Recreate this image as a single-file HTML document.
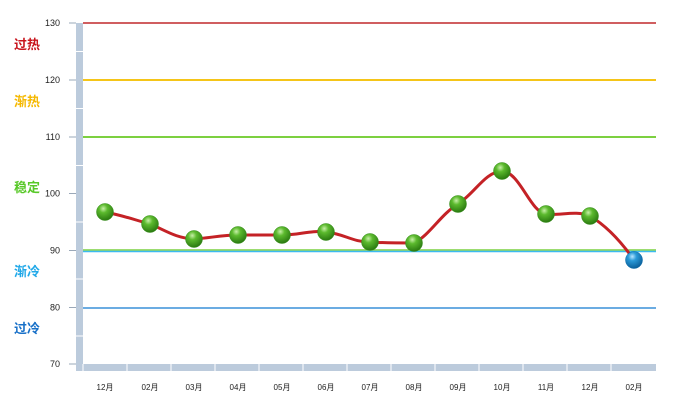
<!DOCTYPE html>
<html><head><meta charset="utf-8"><style>
body{margin:0;background:#fff;}
svg{display:block;font-family:"Liberation Sans","Noto Sans CJK SC",sans-serif;}
</style></head><body>
<svg width="682" height="406" viewBox="0 0 682 406">
<defs>
<radialGradient id="g" cx="40%" cy="30%" r="70%"><stop offset="0" stop-color="#c8f0a8"/><stop offset="0.35" stop-color="#5cba2e"/><stop offset="1" stop-color="#2a7a10"/></radialGradient>
<radialGradient id="b" cx="40%" cy="30%" r="70%"><stop offset="0" stop-color="#b8e6ff"/><stop offset="0.35" stop-color="#2a9ad8"/><stop offset="1" stop-color="#0a5f9a"/></radialGradient>
</defs>
<rect x="76" y="23" width="7" height="348" fill="#bccbdc"/>
<rect x="76" y="364" width="580" height="7" fill="#bccbdc"/>
<g stroke="#fff" stroke-width="1">
<line x1="76" y1="51.5" x2="83" y2="51.5"/><line x1="76" y1="108.5" x2="83" y2="108.5"/><line x1="76" y1="165.5" x2="83" y2="165.5"/><line x1="76" y1="222" x2="83" y2="222"/><line x1="76" y1="279" x2="83" y2="279"/><line x1="76" y1="336" x2="83" y2="336"/>
<line x1="83" y1="364" x2="83" y2="371"/>
<line x1="127" y1="364" x2="127" y2="371"/><line x1="171" y1="364" x2="171" y2="371"/><line x1="215" y1="364" x2="215" y2="371"/><line x1="259" y1="364" x2="259" y2="371"/><line x1="303" y1="364" x2="303" y2="371"/><line x1="347" y1="364" x2="347" y2="371"/><line x1="391" y1="364" x2="391" y2="371"/><line x1="435" y1="364" x2="435" y2="371"/><line x1="479" y1="364" x2="479" y2="371"/><line x1="523" y1="364" x2="523" y2="371"/><line x1="567" y1="364" x2="567" y2="371"/><line x1="611" y1="364" x2="611" y2="371"/>
</g>
<g stroke="#9aa8b8"><line x1="69" y1="23" x2="76" y2="23"/><line x1="69" y1="80" x2="76" y2="80"/><line x1="69" y1="137" x2="76" y2="137"/><line x1="69" y1="193.5" x2="76" y2="193.5"/><line x1="69" y1="250.5" x2="76" y2="250.5"/><line x1="69" y1="307.5" x2="76" y2="307.5"/><line x1="69" y1="364" x2="76" y2="364"/></g>
<line x1="83" y1="23" x2="656" y2="23" stroke="#c0282c" stroke-width="1.5"/>
<line x1="83" y1="80" x2="656" y2="80" stroke="#f5c518" stroke-width="2"/>
<line x1="83" y1="137" x2="656" y2="137" stroke="#7cd040" stroke-width="2"/>
<line x1="83" y1="250" x2="656" y2="250" stroke="#7cd040" stroke-width="1.5"/>
<line x1="83" y1="251.5" x2="656" y2="251.5" stroke="#3cbaf0" stroke-width="1.5"/>
<line x1="83" y1="308" x2="656" y2="308" stroke="#3a90d8" stroke-width="1.5"/>
<g font-size="9" fill="#222" text-anchor="end">
<text x="60" y="26">130</text><text x="60" y="83">120</text><text x="60" y="140">110</text><text x="60" y="196.5">100</text><text x="60" y="253.5">90</text><text x="60" y="310.5">80</text><text x="60" y="367">70</text></g>
<g font-size="13" font-weight="bold">
<text x="14" y="49" fill="#c8141c">过热</text><text x="14" y="106" fill="#f5b800">渐热</text><text x="14" y="192" fill="#58c828">稳定</text><text x="14" y="276" fill="#20a8e8">渐冷</text><text x="14" y="333" fill="#1870c8">过冷</text></g>
<path d="M105,212 C125,216 135,220 150,224 C165,230 175,238 194,239 C210,238 222,235 238,235 L282,235 C300,235 310,230 326,232 C345,234 352,242 370,242 C385,243 400,243 414,243 C430,235 440,215 458,204 C475,193 485,172 502,171 C520,172 530,212 546,214 C560,216 575,210 590,216 C605,225 620,240 634,260" fill="none" stroke="#c42226" stroke-width="3"/>
<g fill="url(#g)" stroke="#3a9020" stroke-width="0.5">
<circle cx="105" cy="212" r="8.5"/><circle cx="150" cy="224" r="8.5"/><circle cx="194" cy="239" r="8.5"/><circle cx="238" cy="235" r="8.5"/><circle cx="282" cy="235" r="8.5"/><circle cx="326" cy="232" r="8.5"/><circle cx="370" cy="242" r="8.5"/><circle cx="414" cy="243" r="8.5"/><circle cx="458" cy="204" r="8.5"/><circle cx="502" cy="171" r="8.5"/><circle cx="546" cy="214" r="8.5"/><circle cx="590" cy="216" r="8.5"/></g>
<circle cx="634" cy="260" r="8.5" fill="url(#b)" stroke="#0a6aa8" stroke-width="0.5"/>
<g font-size="8" fill="#222" text-anchor="middle">
<text x="105" y="390">12月</text><text x="150" y="390">02月</text><text x="194" y="390">03月</text><text x="238" y="390">04月</text><text x="282" y="390">05月</text><text x="326" y="390">06月</text><text x="370" y="390">07月</text><text x="414" y="390">08月</text><text x="458" y="390">09月</text><text x="502" y="390">10月</text><text x="546" y="390">11月</text><text x="590" y="390">12月</text><text x="634" y="390">02月</text></g>
</svg>
</body></html>
